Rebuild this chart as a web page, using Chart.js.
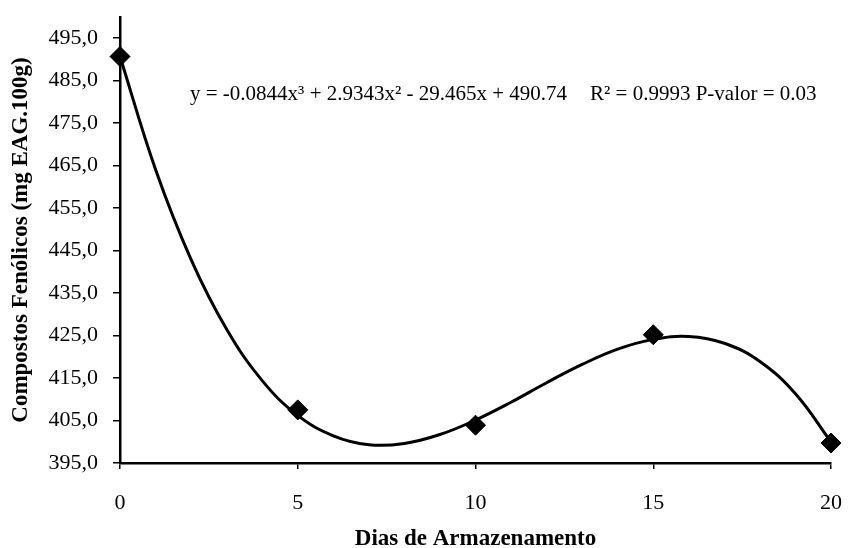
<!DOCTYPE html>
<html>
<head>
<meta charset="utf-8">
<script src="https://cdn.jsdelivr.net/npm/chart.js@4"></script>
<style>
  html, body { margin: 0; padding: 0; background: #fff; }
  #wrap { width: 850px; height: 548px; }
</style>
</head>
<body>
<div id="wrap"><canvas id="myChart" width="850" height="548"></canvas></div>
<script>
// observed points
const days = [0, 5, 10, 15, 20];
const phenolics = [490.7, 407.5, 403.9, 425.2, 399.7];

// fitted curve at each day
const curveDays = [0, 1, 2, 3, 4, 5, 6, 7, 8, 9, 10, 11, 12, 13, 14, 15, 16, 17, 18, 19, 20];
const curveValues = [490.7, 464.1, 442.9, 426.5, 414.4, 406.2, 401.4, 399.3, 399.6, 401.7, 405.1,
                     409.3, 413.9, 418.2, 421.8, 424.1, 424.8, 423.2, 418.9, 411.3, 400.0];

const xTicks = [0, 5, 10, 15, 20];
const yTicks = [395, 405, 415, 425, 435, 445, 455, 465, 475, 485, 495];

const equationText = 'y = -0.0844x\u00b3 + 2.9343x\u00b2 - 29.465x + 490.74';
const statsText = 'R\u00b2 = 0.9993 P-valor = 0.03';

const serif = '"Liberation Serif", "DejaVu Serif", serif';

const equationPlugin = {
    id: 'equation',
    afterDraw(chart) {
        const ctx = chart.ctx;
        const area = chart.chartArea;
        ctx.save();
        ctx.font = '21px ' + serif;
        ctx.fillStyle = '#000';
        ctx.textBaseline = 'middle';
        ctx.textAlign = 'left';
        ctx.fillText(equationText, area.left + 70, 94);
        ctx.fillText(statsText, area.left + 470, 94);
        ctx.restore();
    }
};

const ctx = document.getElementById('myChart');
const myChart = new Chart(ctx, {
    type: 'scatter',
    data: {
        datasets: [
            {
                label: 'curva',
                data: curveDays.map((d, i) => ({ x: d, y: curveValues[i] })),
                showLine: true,
                borderColor: '#000',
                borderWidth: 3,
                pointRadius: 0,
                tension: 0.4,
                clip: false,
                order: 2
            },
            {
                label: 'dados',
                data: days.map((d, i) => ({ x: d, y: phenolics[i] })),
                pointStyle: 'rectRot',
                pointRadius: 10,
                backgroundColor: '#000',
                borderColor: '#000',
                clip: false,
                order: 1
            }
        ]
    },
    options: {
        responsive: false,
        animation: false,
        layout: { padding: { top: 17, right: 19, left: 0, bottom: 0 } },
        plugins: {
            legend: { display: false },
            tooltip: { enabled: false }
        },
        scales: {
            x: {
                type: 'linear',
                min: 0,
                max: 20,
                afterBuildTicks: (scale) => { scale.ticks = xTicks.map(v => ({ value: v })); },
                afterFit: (scale) => {
                    scale.height = 85;
                    scale.paddingLeft = 0;
                    scale.paddingRight = 0;
                },
                border: { color: '#000', width: 2.5 },
                grid: { display: true, drawOnChartArea: false, drawTicks: true, tickLength: 6, color: '#000', lineWidth: 1.5 },
                ticks: {
                    color: '#000',
                    font: { family: serif, size: 22 },
                    padding: 21,
                    maxRotation: 0
                },
                title: {
                    display: true,
                    text: 'Dias de Armazenamento',
                    color: '#000',
                    font: { family: serif, size: 23, weight: 'bold', lineHeight: 1 },
                    padding: { top: 0, bottom: -3 }
                }
            },
            y: {
                min: 395,
                max: 500,
                afterBuildTicks: (scale) => { scale.ticks = yTicks.map(v => ({ value: v })); },
                afterFit: (scale) => {
                    scale.width = 120;
                    scale.paddingTop = 0;
                    scale.paddingBottom = 0;
                },
                border: { color: '#000', width: 2.5 },
                grid: { display: true, drawOnChartArea: false, drawTicks: true, tickLength: 7, color: '#000', lineWidth: 1.5 },
                ticks: {
                    color: '#000',
                    font: { family: serif, size: 22 },
                    padding: 15,
                    callback: (v) => v.toFixed(1).replace('.', ',')
                },
                title: {
                    display: true,
                    text: 'Compostos Fenólicos (mg EAG.100g)',
                    color: '#000',
                    font: { family: serif, size: 23, weight: 'bold', lineHeight: 1 },
                    padding: { top: 10, bottom: 0 }
                }
            }
        }
    },
    plugins: [equationPlugin]
});
</script>
</body>
</html>
